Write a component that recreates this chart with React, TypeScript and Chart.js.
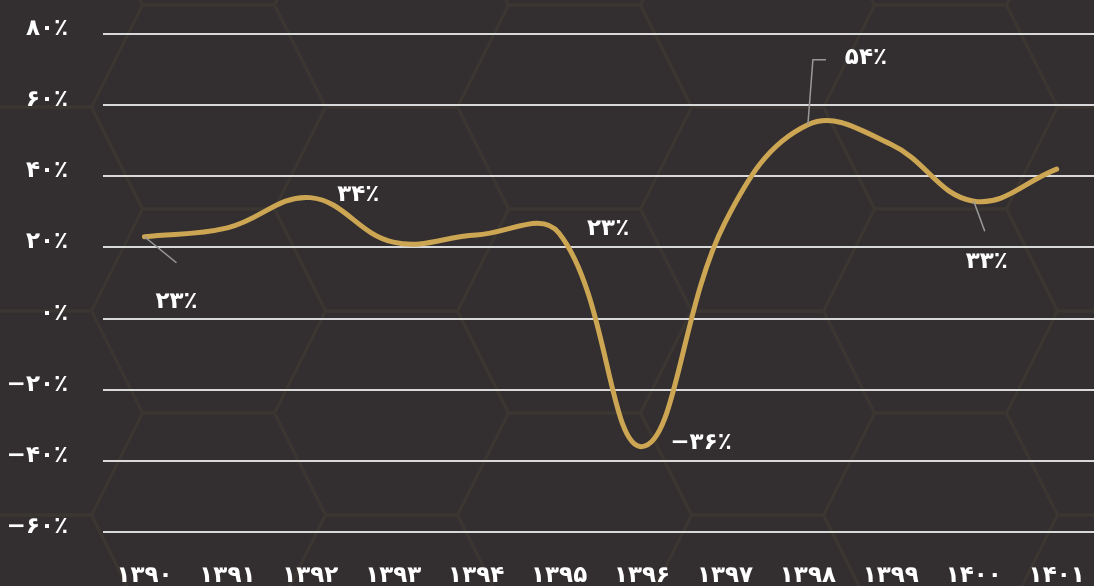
import React, { useEffect, useRef } from 'react';
import { Chart, registerables } from 'chart.js';

Chart.register(...registerables);

// ---- data ----
const years = [1390, 1391, 1392, 1393, 1394, 1395, 1396, 1397, 1398, 1399, 1400, 1401];
const yearLabels = ['۱۳۹۰', '۱۳۹۱', '۱۳۹۲', '۱۳۹۳', '۱۳۹۴', '۱۳۹۵', '۱۳۹۶', '۱۳۹۷', '۱۳۹۸', '۱۳۹۹', '۱۴۰۰', '۱۴۰۱'];
const growth = [23, 25.5, 34, 21.5, 23.5, 24, -36, 27, 54.5, 49, 33, 42];
const yTickValues = [-60, -40, -20, 0, 20, 40, 60, 80];
const yTickLabels = ['−۶۰٪', '−۴۰٪', '−۲۰٪', '۰٪', '۲۰٪', '۴۰٪', '۶۰٪', '۸۰٪'];
const calloutYears = [1390, 1392, 1395, 1396, 1398, 1400];
const calloutLabels = ['۲۳٪', '۳۴٪', '۲۳٪', '−۳۶٪', '۵۴٪', '۳۳٪'];

// ---- layout / style (not data) ----
const calloutLayout: { dx: number; dy: number; leader: number[][] | null }[] = [
  { dx: 32, dy: 65, leader: [[32, 26]] },
  { dx: 48, dy: -3, leader: null },
  { dx: 49, dy: -4, leader: null },
  { dx: 59, dy: -4, leader: null },
  { dx: 58, dy: -67, leader: [[5, -65], [18, -65]] },
  { dx: 13, dy: 61, leader: [[11, 30]] },
];

const FONT = "'DejaVu Sans', sans-serif";
const FSIZE = 23;
const BG = '#332f30';
const HEX = '#3b3631';
const GOLD = '#cda653';
const CLEAR = 'rgba(0,0,0,0)';

const bgPlugin = {
  id: 'bgHex',
  beforeDraw(chart: any) {
    const { ctx, width, height } = chart;
    ctx.save();
    ctx.fillStyle = BG;
    ctx.fillRect(0, 0, width, height);
    ctx.strokeStyle = HEX;
    ctx.lineWidth = 3;
    const a = 66, b = 51, h = 102, step = 183;
    for (let k = -1; k <= 7; k++) {
      const cx = 208.5 + k * step;
      const cy0 = Math.abs(k) % 2 === 0 ? 107 : 5;
      for (let m = -1; m <= 4; m++) {
        const cy = cy0 + m * 2 * h;
        ctx.beginPath();
        ctx.moveTo(cx - a, cy - h);
        ctx.lineTo(cx + a, cy - h);
        ctx.lineTo(cx + a + b, cy);
        ctx.lineTo(cx + a, cy + h);
        ctx.lineTo(cx - a, cy + h);
        ctx.lineTo(cx - a - b, cy);
        ctx.closePath();
        ctx.stroke();
      }
    }
    ctx.restore();
  },
};

const calloutPlugin = {
  id: 'callouts',
  afterDatasetsDraw(chart: any) {
    const { ctx } = chart;
    const xs = chart.scales.x;
    const ys = chart.scales.y;
    ctx.save();
    calloutYears.forEach((yr, i) => {
      const idx = years.indexOf(yr);
      const px = xs.getPixelForValue(yr);
      const py = ys.getPixelForValue(growth[idx]);
      const lay = calloutLayout[i];
      if (lay.leader) {
        ctx.strokeStyle = '#9a9a9a';
        ctx.lineWidth = 1.5;
        ctx.beginPath();
        ctx.moveTo(px, py);
        lay.leader.forEach((p) => ctx.lineTo(px + p[0], py + p[1]));
        ctx.stroke();
      }
      ctx.fillStyle = '#ffffff';
      ctx.font = `bold ${FSIZE}px ${FONT}`;
      ctx.textAlign = 'center';
      ctx.textBaseline = 'middle';
      ctx.fillText(calloutLabels[i], px + lay.dx, py + lay.dy);
    });
    ctx.restore();
  },
};

export default function App() {
  const ref = useRef<HTMLCanvasElement | null>(null);
  useEffect(() => {
    if (!ref.current) return;
    const chart = new Chart(ref.current, {
      type: 'line',
      data: {
        datasets: [
          {
            data: years.map((y, i) => ({ x: y, y: growth[i] })),
            borderColor: GOLD,
            borderWidth: 5,
            tension: 0.4,
            pointRadius: 0,
            fill: false,
            borderCapStyle: 'round',
            borderJoinStyle: 'round',
          } as any,
        ],
      },
      options: {
        animation: false,
        responsive: true,
        maintainAspectRatio: false,
        layout: { padding: { top: 34, left: 0, right: 0, bottom: 0 } },
        plugins: { legend: { display: false }, tooltip: { enabled: false } },
        scales: {
          x: {
            type: 'linear',
            min: 1389.5,
            max: 1401.45,
            afterBuildTicks: (s: any) => {
              s.ticks = years.map((v) => ({ value: v }));
            },
            afterFit: (s: any) => {
              s.height = 54;
            },
            grid: { display: true, drawOnChartArea: false, drawTicks: true, tickLength: 30, tickColor: CLEAR },
            border: { display: false },
            ticks: {
              padding: 0,
              color: '#ffffff',
              font: { family: FONT, size: FSIZE, weight: 'bold' },
              maxRotation: 0,
              autoSkip: false,
              callback: (v: any) => yearLabels[years.indexOf(Number(v))] ?? '',
            },
          },
          y: {
            min: -60,
            max: 80,
            afterBuildTicks: (s: any) => {
              s.ticks = yTickValues.map((v) => ({ value: v }));
            },
            afterFit: (s: any) => {
              s.width = 103;
            },
            grid: { color: '#d9d9d9', lineWidth: 2, drawTicks: true, tickLength: 35, tickColor: CLEAR },
            border: { display: false },
            ticks: {
              padding: 0,
              labelOffset: -5,
              color: '#ffffff',
              font: { family: FONT, size: FSIZE, weight: 'bold' },
              callback: (v: any) => yTickLabels[yTickValues.indexOf(Number(v))] ?? '',
            },
          },
        },
      },
      plugins: [bgPlugin, calloutPlugin],
    });
    return () => chart.destroy();
  }, []);
  return (
    <div style={{ position: 'fixed', left: 0, top: 0, width: 1094, height: 586, background: BG }}>
      <canvas ref={ref} />
    </div>
  );
}
